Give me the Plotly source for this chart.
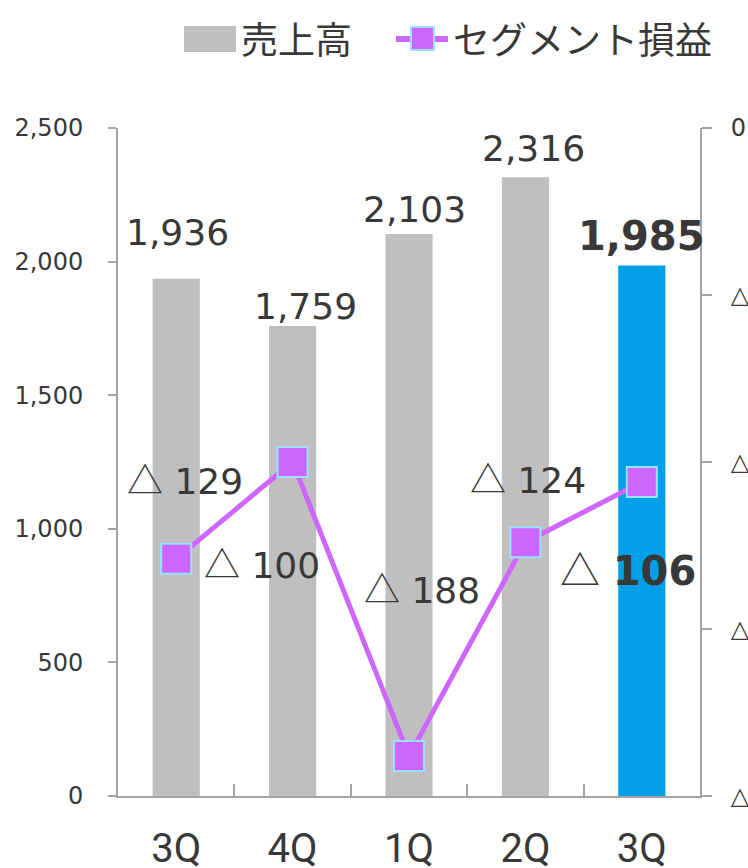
import plotly.graph_objects as go

# ---- data ----
categories = ["3Q", "4Q", "1Q", "2Q", "3Q "]
tick_text = ["3Q", "4Q", "1Q", "2Q", "3Q"]
sales = [1936, 1759, 2103, 2316, 1985]
segment_profit = [-129, -100, -188, -124, -106]
left_ticks = [0, 500, 1000, 1500, 2000, 2500]
left_tick_text = ["0", "500", "1,000", "1,500", "2,000", "2,500"]
right_ticks = [0, -50, -100, -150, -200]
right_tick_text = ["0", "△ 50", "△ 100", "△ 150", "△ 200"]
legend_names = ["売上高", "セグメント損益"]
highlight_index = 4  # latest quarter, emphasised

# ---- styles ----
bar_colors = ["#bfbfbf", "#bfbfbf", "#bfbfbf", "#bfbfbf", "#009fe8"]
line_color = "#cc66ff"
marker_border = "#99e2ff"
text_color = "#383838"
axis_color = "#a3a3a3"
num_font = "DejaVu Sans, Verdana, sans-serif"
jp_font = "Noto Sans CJK JP, sans-serif"
tri = "<span style=\"font-family:Noto Sans CJK JP\">△</span>"

# label offsets (pixels) relative to data point
sales_dx = [1, 13, 5, 8, 0]
sales_dy = [46, 20, 25, 29, 30]
sales_size = [36, 36, 36, 36, 40]
profit_dx = [9, -31, 13, 3, -14]
profit_dy = [81, -100, 169, 65, -86]
profit_size = [36, 36, 36, 36, 40]

W, H = 748, 868
ML, MR, MT, MB = 118, 48, 128, 72
PW, PH = W - ML - MR, H - MT - MB


def px(x):
    return (x - ML) / PW


def py(y):
    return (H - MB - y) / PH


def sales_label(i):
    s = f"{sales[i]:,}"
    return f"<b>{s}</b>" if i == highlight_index else s


def profit_label(i):
    v = segment_profit[i]
    num = f"{abs(v):,}"
    if i == highlight_index:
        num = f"<b>{num}</b>"
    return f"{tri} {num}" if v < 0 else num


fig = go.Figure()
fig.add_trace(go.Bar(
    x=categories, y=sales, name=legend_names[0],
    marker=dict(color=bar_colors, line=dict(width=0)),
    width=0.405, showlegend=False, yaxis="y",
))
fig.add_trace(go.Scatter(
    x=categories, y=segment_profit, name=legend_names[1],
    mode="lines+markers", yaxis="y2",
    line=dict(color=line_color, width=5),
    marker=dict(symbol="square", size=30, color=line_color,
                line=dict(color=marker_border, width=2)),
    showlegend=False,
))

annotations = []
for i, c in enumerate(categories):
    annotations.append(dict(
        x=c, y=sales[i], xref="x", yref="y", text=sales_label(i),
        showarrow=False, xshift=sales_dx[i], yshift=sales_dy[i],
        xanchor="center", yanchor="middle",
        font=dict(family=num_font, size=sales_size[i], color=text_color),
    ))
    annotations.append(dict(
        x=c, y=segment_profit[i], xref="x", yref="y2", text=profit_label(i),
        showarrow=False, xshift=profit_dx[i], yshift=profit_dy[i],
        xanchor="center", yanchor="middle",
        font=dict(family=num_font, size=profit_size[i], color=text_color),
    ))

# custom legend
annotations.append(dict(
    x=px(239), y=py(38), xref="paper", yref="paper", text=legend_names[0],
    showarrow=False, xanchor="left", yanchor="middle",
    font=dict(family=jp_font, size=37, color=text_color),
))
annotations.append(dict(
    x=px(451), y=py(38), xref="paper", yref="paper", text=legend_names[1],
    showarrow=False, xanchor="left", yanchor="middle",
    font=dict(family=jp_font, size=37, color=text_color),
))

shapes = [
    dict(type="rect", xref="paper", yref="paper",
         x0=px(184), x1=px(236), y0=py(52), y1=py(26),
         fillcolor=bar_colors[0], line=dict(width=0)),
    dict(type="line", xref="paper", yref="paper",
         x0=px(396), x1=px(448), y0=py(39), y1=py(39),
         line=dict(color=line_color, width=6)),
    dict(type="rect", xref="paper", yref="paper",
         x0=px(411), x1=px(434), y0=py(50), y1=py(27),
         fillcolor=line_color, line=dict(color=marker_border, width=2)),
]

fig.update_layout(
    width=W, height=H,
    margin=dict(l=ML, r=MR, t=MT, b=MB, pad=0, autoexpand=False),
    paper_bgcolor="white", plot_bgcolor="white",
    showlegend=False,
    bargap=0.6,
    annotations=annotations,
    shapes=shapes,
    xaxis=dict(
        range=[-0.5, len(categories) - 0.5],
        tickmode="array", tickvals=categories, ticktext=tick_text,
        showline=True, linecolor=axis_color, linewidth=2,
        ticks="inside", tickson="boundaries", ticklen=12,
        tickcolor=axis_color, tickwidth=2,
        tickfont=dict(family="Roboto, sans-serif", size=40, color=text_color),
        ticklabelstandoff=16, automargin=False,
        showgrid=False, zeroline=False,
    ),
    yaxis=dict(
        range=[0, 2500], tickvals=left_ticks, ticktext=left_tick_text,
        showline=True, linecolor=axis_color, linewidth=2,
        ticks="outside", ticklen=8, tickcolor=axis_color, tickwidth=2,
        tickfont=dict(family=num_font, size=24, color=text_color),
        ticklabelstandoff=20, automargin=False,
        showgrid=False, zeroline=False,
    ),
    yaxis2=dict(
        range=[-200, 0], tickvals=right_ticks, ticktext=right_tick_text,
        overlaying="y", side="right",
        showline=True, linecolor=axis_color, linewidth=2,
        ticks="outside", ticklen=10, tickcolor=axis_color, tickwidth=2,
        tickfont=dict(family=num_font, size=24, color=text_color),
        ticklabelstandoff=14, automargin=False, ticklabeloverflow="allow",
        showgrid=False, zeroline=False,
    ),
)

fig.write_html("out.html", config={"displayModeBar": False},
               post_script="document.body.style.margin='0';")
